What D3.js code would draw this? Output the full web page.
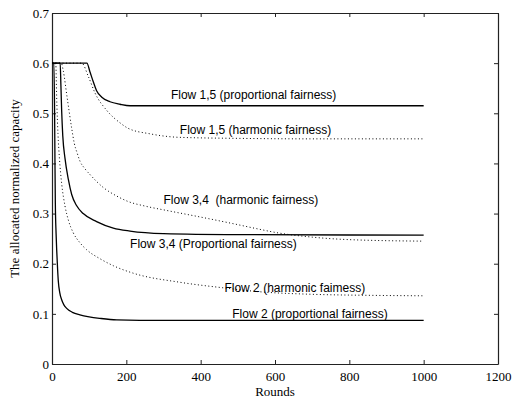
<!DOCTYPE html>
<html>
<head>
<meta charset="utf-8">
<script src="https://cdn.jsdelivr.net/npm/d3@7"></script>
<style>
	body { margin: 0; background: #fff; }
	svg { display: block; }
	.axis text { font-family: "Liberation Serif", "DejaVu Serif", serif; font-size: 13px; fill: #000; }
	.axis path, .axis line { stroke: #222; }
	.title { font-family: "Liberation Serif", "DejaVu Serif", serif; font-size: 13px; fill: #000; }
	.flowlabel { font-family: "Liberation Sans", Arial, sans-serif; font-size: 12px; fill: #000; }
</style>
</head>
<body>
<svg id="chart"></svg>
<script>
// values: rounds and allocated capacity per flow
const xTicks = [0, 200, 400, 600, 800, 1000, 1200] ;
const yTicks = [0, 0.1, 0.2, 0.3, 0.4, 0.5, 0.6, 0.7] ;
const yTickLabels = ['0', '0.1', '0.2', '0.3', '0.4', '0.5', '0.6', '0.7'] ;

const rounds15Prop = [0, 94, 102, 111, 120, 134, 156, 183, 210, 300, 500, 1000] ;
const flow15Prop = [0.6, 0.6, 0.583, 0.563, 0.545, 0.532, 0.523, 0.518, 0.515, 0.515, 0.515, 0.515] ;

const rounds15Harm = [0, 80, 98, 116, 147, 183, 205, 264, 344, 500, 700, 1000] ;
const flow15Harm = [0.6, 0.6, 0.573, 0.54, 0.506, 0.481, 0.47, 0.459, 0.452, 0.45, 0.449, 0.449] ;

const rounds34Prop = [0, 22, 24, 26, 29, 35, 44, 53, 66, 84, 120, 165, 210, 300, 500, 1000] ;
const flow34Prop = [0.6, 0.6, 0.555, 0.505, 0.455, 0.41, 0.368, 0.338, 0.316, 0.3, 0.284, 0.271, 0.265, 0.26, 0.258, 0.257] ;

const rounds34Harm = [0, 25, 30, 41, 53, 60, 68, 75, 88, 102, 138, 174, 205, 250, 310, 400, 480, 550, 604, 700, 800, 1000] ;
const flow34Harm = [0.6, 0.6, 0.586, 0.53, 0.47, 0.44, 0.42, 0.405, 0.39, 0.378, 0.352, 0.335, 0.324, 0.315, 0.306, 0.293, 0.281, 0.27, 0.262, 0.253, 0.248, 0.245] ;

const rounds2Prop = [0, 5, 7, 8, 9, 11, 12.6, 15, 17, 21, 26, 32, 39.5, 55, 75, 100, 129, 174, 300, 1000] ;
const flow2Prop = [0.6, 0.6, 0.5, 0.4, 0.32, 0.26, 0.228, 0.19, 0.165, 0.142, 0.128, 0.118, 0.111, 0.103, 0.098, 0.094, 0.091, 0.088, 0.087, 0.087] ;

const rounds2Harm = [0, 10, 13, 16, 20, 26, 35, 44, 57, 75, 93, 129, 165, 219, 344, 460, 560, 700, 850, 1000] ;
const flow2Harm = [0.6, 0.6, 0.52, 0.46, 0.41, 0.36, 0.315, 0.287, 0.262, 0.242, 0.228, 0.21, 0.196, 0.181, 0.163, 0.152, 0.144, 0.139, 0.137, 0.136] ;

const seriesNames = [
	'Flow 1,5 (proportional fairness)',
	'Flow 1,5 (harmonic fairness)',
	'Flow 3,4  (harmonic fairness)',
	'Flow 3,4 (Proportional fairness)',
	'Flow 2 (harmonic faimess)',
	'Flow 2 (proportional fairness)'
] ;

const geom = {
	width: 517,
	height: 398,
	margins: { left: 52, right: 19, top: 13, bottom: 34 }
} ;

const x = d3.scaleLinear()
	.domain( [0, 1200] )
	.range( [geom.margins.left, geom.width - geom.margins.right] ) ;
const y = d3.scaleLinear()
	.domain( [0, 0.7] )
	.range( [geom.height - geom.margins.bottom, geom.margins.top] ) ;

const svg = d3.select( '#chart' )
	.attr( 'width', geom.width )
	.attr( 'height', geom.height ) ;

const bottom = geom.height - geom.margins.bottom ;
const right = geom.width - geom.margins.right ;

// box, matlab style: ticks point inward on all four sides
svg.append( 'g' )
	.attr( 'class', 'axis' )
	.attr( 'transform', 'translate(0 ' + bottom + ')' )
	.call( d3.axisBottom(x).tickValues(xTicks).tickFormat(d3.format('d'))
		.tickSizeInner(-4).tickSizeOuter(0).tickPadding(8) ) ;

svg.append( 'g' )
	.attr( 'class', 'axis' )
	.attr( 'transform', 'translate(' + geom.margins.left + ' 0)' )
	.call( d3.axisLeft(y).tickValues(yTicks).tickFormat((d, i) => yTickLabels[i])
		.tickSizeInner(-4).tickSizeOuter(0).tickPadding(3) ) ;

svg.append( 'g' )
	.attr( 'class', 'axis' )
	.attr( 'transform', 'translate(0 ' + geom.margins.top + ')' )
	.call( d3.axisTop(x).tickValues(xTicks).tickFormat('')
		.tickSizeInner(-4).tickSizeOuter(0) ) ;

svg.append( 'g' )
	.attr( 'class', 'axis' )
	.attr( 'transform', 'translate(' + right + ' 0)' )
	.call( d3.axisRight(y).tickValues(yTicks).tickFormat('')
		.tickSizeInner(-4).tickSizeOuter(0) ) ;

svg.selectAll( '.axis .domain' ).attr( 'stroke-width', 1.2 ) ;

const line = d3.line()
	.x( d => x(d[0]) )
	.y( d => y(d[1]) )
	.curve( d3.curveMonotoneX ) ;

const series = [
	{ r: rounds15Prop, v: flow15Prop, dotted: false },
	{ r: rounds15Harm, v: flow15Harm, dotted: true },
	{ r: rounds34Harm, v: flow34Harm, dotted: true },
	{ r: rounds34Prop, v: flow34Prop, dotted: false },
	{ r: rounds2Harm, v: flow2Harm, dotted: true },
	{ r: rounds2Prop, v: flow2Prop, dotted: false }
] ;

svg.append( 'g' )
	.selectAll( 'path' )
	.data( series )
	.enter()
	.append( 'path' )
	.attr( 'd', s => line( s.r.map((r, i) => [r, s.v[i]]) ) )
	.attr( 'fill', 'none' )
	.attr( 'stroke', '#000' )
	.attr( 'stroke-width', s => s.dotted ? 1 : 1.3 )
	.attr( 'stroke-dasharray', s => s.dotted ? '1,2.5' : null ) ;

// label anchors (rounds, capacity) for the text next to each curve
const labelRounds = [320, 344, 300, 210, 464, 485] ;
const labelValues = [0.529, 0.459, 0.32, 0.231, 0.143, 0.092] ;

svg.append( 'g' )
	.selectAll( 'text' )
	.data( seriesNames )
	.enter()
	.append( 'text' )
	.attr( 'class', 'flowlabel' )
	.attr( 'x', (d, i) => x(labelRounds[i]) )
	.attr( 'y', (d, i) => y(labelValues[i]) )
	.style( 'white-space', 'pre' )
	.text( d => d ) ;

svg.append( 'text' )
	.attr( 'class', 'title' )
	.attr( 'x', x(600) )
	.attr( 'y', 396 )
	.attr( 'text-anchor', 'middle' )
	.text( 'Rounds' ) ;

svg.append( 'text' )
	.attr( 'class', 'title' )
	.attr( 'transform', 'translate(19 ' + ((geom.margins.top + bottom) / 2) + ') rotate(-90)' )
	.attr( 'text-anchor', 'middle' )
	.text( 'The allocated normalized capacity' ) ;
</script>
</body>
</html>
